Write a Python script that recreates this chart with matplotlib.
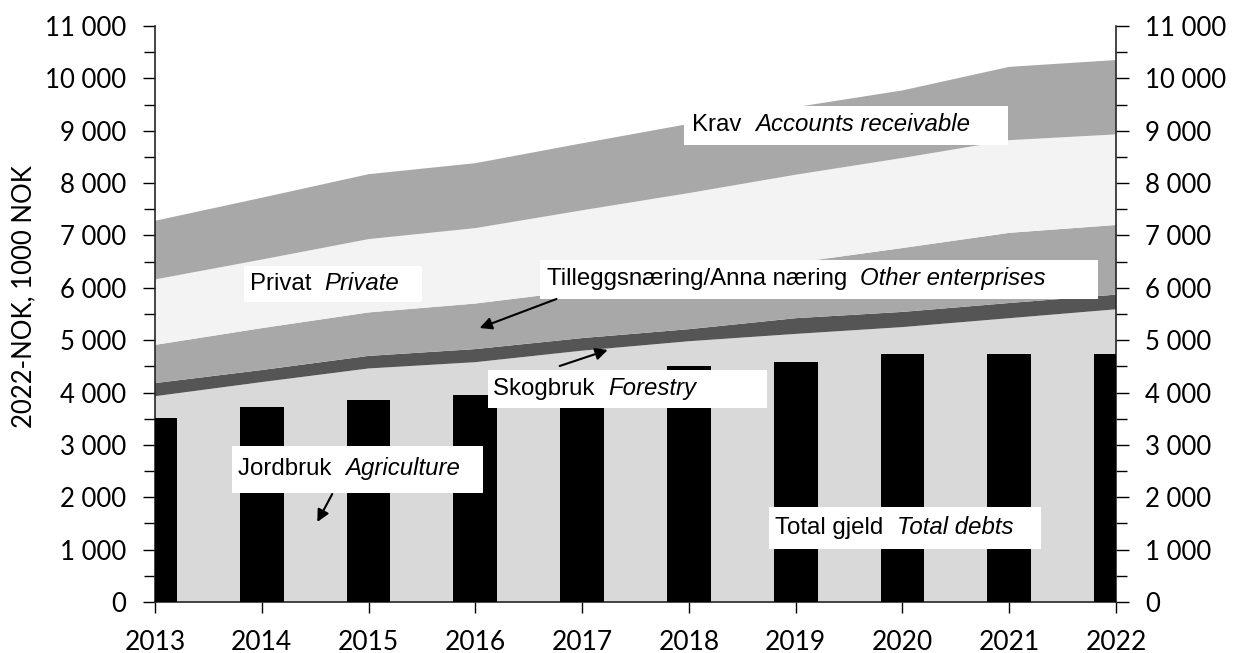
import matplotlib
matplotlib.use("Agg")
import matplotlib.pyplot as plt
from matplotlib.patches import Rectangle
from matplotlib.ticker import MultipleLocator, FuncFormatter

# ---------------- data ----------------
years = [2013, 2014, 2015, 2016, 2017, 2018, 2019, 2020, 2021, 2022]
jordbruk = [3930, 4200, 4460, 4580, 4800, 4980, 5120, 5250, 5420, 5590]
skogbruk = [250, 230, 240, 250, 240, 230, 300, 290, 290, 280]
tillegg = [730, 800, 830, 870, 910, 990, 1060, 1220, 1340, 1330]
privat = [1250, 1310, 1400, 1440, 1530, 1610, 1680, 1720, 1770, 1730]
krav = [1120, 1180, 1240, 1240, 1280, 1320, 1290, 1290, 1400, 1420]
total_gjeld = [3520, 3720, 3860, 3960, 4250, 4510, 4580, 4730, 4730, 4730]

ylabel = "2022-NOK, 1000 NOK"
labels = [
    ("Krav  ", "Accounts receivable"),
    ("Privat  ", "Private"),
    ("Tilleggsnæring/Anna næring  ", "Other enterprises"),
    ("Skogbruk  ", "Forestry"),
    ("Jordbruk  ", "Agriculture"),
    ("Total gjeld  ", "Total debts"),
]

# ---------------- layout ----------------
# label boxes: (x0, x1, y0, y1) in data units, text x, text y
boxes = [
    (2017.95, 2020.99, 8728, 9473, 2018.03, 9100),
    (2013.83, 2015.50, 5730, 6417, 2013.89, 6073),
    (2016.61, 2021.83, 5787, 6532, 2016.67, 6159),
    (2016.12, 2018.73, 3705, 4431, 2016.17, 4068),
    (2013.72, 2016.07, 2082, 2979, 2013.78, 2531),
    (2018.75, 2021.30, 1012, 1814, 2018.81, 1413),
]
arrows = [
    ((2016.76, 5787), (2016.04, 5233)),
    ((2016.79, 4507), (2017.24, 4813)),
    ((2014.66, 2063), (2014.52, 1528)),
]

colors = ["#d9d9d9", "#555555", "#a8a8a8", "#f3f3f3", "#a8a8a8"]

fig = plt.figure(figsize=(12.34, 6.53), dpi=100)
ax = fig.add_axes([155 / 1234, 51 / 653, (1116 - 155) / 1234, (602 - 26) / 653])

ax.stackplot(years, jordbruk, skogbruk, tillegg, privat, krav,
             colors=colors, linewidth=0, zorder=1)
ax.bar(years, total_gjeld, width=0.41, color="black", zorder=3)

ax.set_xlim(2013, 2022)
ax.set_ylim(0, 11000)

tick_font = "Lato"
ax.set_xticks(years)
ax.set_xticklabels([str(y) for y in years], fontsize=19, family=tick_font)
ax.yaxis.set_major_locator(MultipleLocator(1000))
ax.yaxis.set_minor_locator(MultipleLocator(500))
ax.yaxis.set_major_formatter(FuncFormatter(lambda v, p: f"{int(v):,}".replace(",", " ")))
ax.yaxis.set_ticks_position("both")
ax.tick_params(axis="y", which="major", direction="out", length=9, width=1,
               labelsize=18.5, labelright=True, pad=12, colors="black")
ax.tick_params(axis="y", which="minor", direction="out", length=8, width=1)
ax.tick_params(axis="x", which="major", direction="out", length=8, width=1, pad=12)
for t in ax.yaxis.get_major_ticks():
    t.label2.set_family(tick_font)
    t.label1.set_family(tick_font)

for s in ["left", "right", "bottom"]:
    ax.spines[s].set_color("#262626")
    ax.spines[s].set_linewidth(1.2)
ax.spines["top"].set_visible(False)

ax.set_ylabel(ylabel, fontsize=18.5, family=tick_font)
ax.yaxis.set_label_coords(-0.124, 0.53)

font = "Liberation Sans"
fs = 17.3
for (norm, ital), (x0, x1, y0, y1, tx, ty) in zip(labels, boxes):
    ax.add_patch(Rectangle((x0, y0), x1 - x0, y1 - y0, facecolor="white",
                           edgecolor="none", zorder=4))
    t1 = ax.text(tx, ty, norm, fontsize=fs, family=font, va="center",
                 ha="left", zorder=5)
    ax.annotate(ital, xy=(1, 0), xycoords=t1, va="bottom", ha="left",
                fontsize=fs, family=font, style="italic", zorder=5)

for (xs, ys), (xe, ye) in arrows:
    ax.annotate("", xy=(xe, ye), xytext=(xs, ys),
                arrowprops=dict(arrowstyle="-|>", color="black", lw=1.5,
                                mutation_scale=18, shrinkA=0, shrinkB=0),
                zorder=6)

fig.savefig("out.png", dpi=100)
